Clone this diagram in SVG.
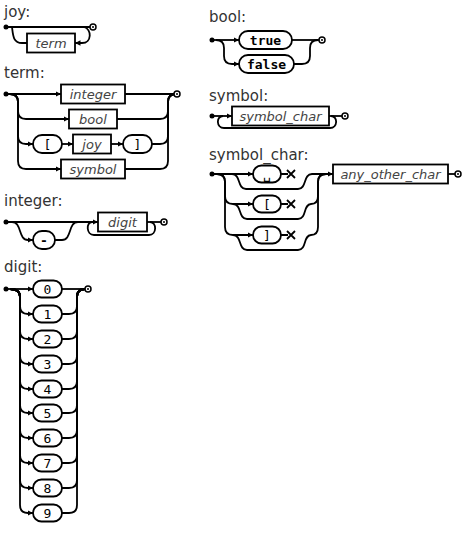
<svg xmlns="http://www.w3.org/2000/svg" width="466" height="538" viewBox="0 0 466 538">
<style>
.ln{fill:none;stroke:#000;stroke-width:1.8}
.bx{fill:#fff;stroke:#000;stroke-width:1.8}
.nt{font-family:"DejaVu Sans",sans-serif;font-style:italic;font-size:13px;fill:#444;text-anchor:middle}
.t{font-family:"DejaVu Sans Mono",monospace;font-size:13px;fill:#000;text-anchor:middle}
.tb{font-family:"DejaVu Sans Mono",monospace;font-size:13px;font-weight:bold;fill:#000;text-anchor:middle}
.lbl{font-family:"DejaVu Sans",sans-serif;font-size:15px;fill:#333}
.st{fill:#000}
.en{fill:#fff;stroke:#000;stroke-width:1.5}
.x{stroke:#000;stroke-width:1.8}
</style>
<defs>
<marker id="ah" viewBox="0 0 8 8" refX="8" refY="4" markerWidth="5.5" markerHeight="5.5" markerUnits="userSpaceOnUse" orient="auto"><path d="M0,0 L8,4 L0,8 z" fill="#000"/></marker>
</defs>
<rect width="466" height="538" fill="#fff"/>

<g id="joy">
<text x="4" y="17" class="lbl">joy:</text>
<g class="connectors">
<path class="ln" d="M6 27 H90"/>
<path class="ln" d="M12 27 C13 35 13 43 22 43 H27"/>
<path class="ln" d="M84 27 C92 29 92 43 82 43 H75" marker-end="url(#ah)"/>
</g>
<circle class="st" cx="6" cy="27" r="2.5"/>
<circle class="en" cx="93" cy="27" r="3"/><circle class="st" cx="93" cy="27" r="1"/>
<g id="joy-term"><rect class="bx" x="27" y="33.5" width="48" height="19"/><text class="nt" x="51" y="47.5">term</text></g>
</g>

<g id="term">
<text x="4" y="78" class="lbl">term:</text>
<g class="connectors">
<path class="ln" d="M6 94 H61" marker-end="url(#ah)"/>
<path class="ln" d="M125 94 H174"/>
<path class="ln" d="M10 94 Q18 94 18 102 V111 Q18 119 26 119 H69" marker-end="url(#ah)"/>
<path class="ln" d="M117 119 H160 Q168 119 168 111 V102 Q168 94 176 94"/>
<path class="ln" d="M10 94 Q18 94 18 102 V136 Q18 144 26 144 H33" marker-end="url(#ah)"/>
<path class="ln" d="M62 144 H73" marker-end="url(#ah)"/>
<path class="ln" d="M111 144 H123" marker-end="url(#ah)"/>
<path class="ln" d="M152 144 H160 Q168 144 168 136 V102 Q168 94 176 94"/>
<path class="ln" d="M10 94 Q18 94 18 102 V161 Q18 169 26 169 H61" marker-end="url(#ah)"/>
<path class="ln" d="M125 169 H160 Q168 169 168 161 V102 Q168 94 176 94"/>
</g>
<circle class="st" cx="6" cy="94" r="2.5"/>
<circle class="en" cx="177" cy="94" r="3"/><circle class="st" cx="177" cy="94" r="1"/>
<g id="term-integer"><rect class="bx" x="61" y="84.5" width="64" height="19"/><text class="nt" x="93" y="98.5">integer</text></g>
<g id="term-bool"><rect class="bx" x="69" y="109.5" width="48" height="19"/><text class="nt" x="93" y="123.5">bool</text></g>
<g id="term-lb"><rect class="bx" x="33" y="135" width="29" height="18" rx="9"/><text class="t" x="47.5" y="148.5">[</text></g>
<g id="term-joy"><rect class="bx" x="73" y="134.5" width="38" height="19"/><text class="nt" x="92" y="148.5">joy</text></g>
<g id="term-rb"><rect class="bx" x="123" y="135" width="29" height="18" rx="9"/><text class="t" x="137.5" y="148.5">]</text></g>
<g id="term-symbol"><rect class="bx" x="61" y="159.5" width="64" height="19"/><text class="nt" x="93" y="173.5">symbol</text></g>
</g>

<g id="integer">
<text x="4" y="206" class="lbl">integer:</text>
<g class="connectors">
<path class="ln" d="M6 222 H98" marker-end="url(#ah)"/>
<path class="ln" d="M12 222 C22 222 18 240 28 240 H33" marker-end="url(#ah)"/>
<path class="ln" d="M55 240 H62 C72 240 68 222 78 222"/>
<path class="ln" d="M147 222 H161"/>
<path class="ln" d="M150 222 C157 222 157 235 149 235 H94 C86 235 86 222 92 222"/>
</g>
<circle class="st" cx="6" cy="222" r="2.5"/>
<circle class="en" cx="164" cy="222" r="3"/><circle class="st" cx="164" cy="222" r="1"/>
<g id="integer-minus"><rect class="bx" x="33" y="231" width="22" height="18" rx="9"/><text class="tb" x="44" y="244.5">-</text></g>
<g id="integer-digit"><rect class="bx" x="98" y="212.5" width="49" height="19"/><text class="nt" x="122.5" y="226.5">digit</text></g>
</g>

<g id="digit">
<text x="4" y="272" class="lbl">digit:</text>
<g class="connectors">
<path class="ln" d="M6 289 H33" marker-end="url(#ah)"/>
<path class="ln" d="M62 289 H85"/>
<path class="ln" d="M10 289 Q20 289 20 297 V306 Q20 314 28 314 H33" marker-end="url(#ah)"/>
<path class="ln" d="M62 314 H69 Q77 314 77 306 V297 Q77 289 85 289"/>
<path class="ln" d="M10 289 Q20 289 20 297 V331 Q20 339 28 339 H33" marker-end="url(#ah)"/>
<path class="ln" d="M62 339 H69 Q77 339 77 331 V297 Q77 289 85 289"/>
<path class="ln" d="M10 289 Q20 289 20 297 V356 Q20 364 28 364 H33" marker-end="url(#ah)"/>
<path class="ln" d="M62 364 H69 Q77 364 77 356 V297 Q77 289 85 289"/>
<path class="ln" d="M10 289 Q20 289 20 297 V381 Q20 389 28 389 H33" marker-end="url(#ah)"/>
<path class="ln" d="M62 389 H69 Q77 389 77 381 V297 Q77 289 85 289"/>
<path class="ln" d="M10 289 Q20 289 20 297 V405 Q20 413 28 413 H33" marker-end="url(#ah)"/>
<path class="ln" d="M62 413 H69 Q77 413 77 405 V297 Q77 289 85 289"/>
<path class="ln" d="M10 289 Q20 289 20 297 V430 Q20 438 28 438 H33" marker-end="url(#ah)"/>
<path class="ln" d="M62 438 H69 Q77 438 77 430 V297 Q77 289 85 289"/>
<path class="ln" d="M10 289 Q20 289 20 297 V455 Q20 463 28 463 H33" marker-end="url(#ah)"/>
<path class="ln" d="M62 463 H69 Q77 463 77 455 V297 Q77 289 85 289"/>
<path class="ln" d="M10 289 Q20 289 20 297 V480 Q20 488 28 488 H33" marker-end="url(#ah)"/>
<path class="ln" d="M62 488 H69 Q77 488 77 480 V297 Q77 289 85 289"/>
<path class="ln" d="M10 289 Q20 289 20 297 V505 Q20 513 28 513 H33" marker-end="url(#ah)"/>
<path class="ln" d="M62 513 H69 Q77 513 77 505 V297 Q77 289 85 289"/>
</g>
<circle class="st" cx="6" cy="289" r="2.5"/>
<circle class="en" cx="88" cy="289" r="3"/><circle class="st" cx="88" cy="289" r="1"/>
<g id="digit-0"><rect class="bx" x="33" y="280.5" width="29" height="17" rx="8.5"/><text class="t" x="47.5" y="293.5">0</text></g>
<g id="digit-1"><rect class="bx" x="33" y="305.5" width="29" height="17" rx="8.5"/><text class="t" x="47.5" y="318.5">1</text></g>
<g id="digit-2"><rect class="bx" x="33" y="330.5" width="29" height="17" rx="8.5"/><text class="t" x="47.5" y="343.5">2</text></g>
<g id="digit-3"><rect class="bx" x="33" y="355.5" width="29" height="17" rx="8.5"/><text class="t" x="47.5" y="368.5">3</text></g>
<g id="digit-4"><rect class="bx" x="33" y="380.5" width="29" height="17" rx="8.5"/><text class="t" x="47.5" y="393.5">4</text></g>
<g id="digit-5"><rect class="bx" x="33" y="404.5" width="29" height="17" rx="8.5"/><text class="t" x="47.5" y="417.5">5</text></g>
<g id="digit-6"><rect class="bx" x="33" y="429.5" width="29" height="17" rx="8.5"/><text class="t" x="47.5" y="442.5">6</text></g>
<g id="digit-7"><rect class="bx" x="33" y="454.5" width="29" height="17" rx="8.5"/><text class="t" x="47.5" y="467.5">7</text></g>
<g id="digit-8"><rect class="bx" x="33" y="479.5" width="29" height="17" rx="8.5"/><text class="t" x="47.5" y="492.5">8</text></g>
<g id="digit-9"><rect class="bx" x="33" y="504.5" width="29" height="17" rx="8.5"/><text class="t" x="47.5" y="517.5">9</text></g>
</g>

<g id="bool">
<text x="209" y="22" class="lbl">bool:</text>
<g class="connectors">
<path class="ln" d="M212 40 H239" marker-end="url(#ah)"/>
<path class="ln" d="M292 40 H319"/>
<path class="ln" d="M216 40 Q224 40 224 48 V56 Q224 64 232 64 H239" marker-end="url(#ah)"/>
<path class="ln" d="M294 64 H302 Q310 64 310 56 V48 Q310 40 318 40"/>
</g>
<circle class="st" cx="212" cy="40" r="2.5"/>
<circle class="en" cx="322" cy="40" r="3"/><circle class="st" cx="322" cy="40" r="1"/>
<g id="bool-true"><rect class="bx" x="239" y="31" width="53" height="18" rx="9"/><text class="tb" x="265.5" y="44.5">true</text></g>
<g id="bool-false"><rect class="bx" x="239" y="55" width="55" height="18" rx="9"/><text class="tb" x="266.5" y="68.5">false</text></g>
</g>

<g id="symbol">
<text x="209" y="101" class="lbl">symbol:</text>
<g class="connectors">
<path class="ln" d="M212 116 H232" marker-end="url(#ah)"/>
<path class="ln" d="M329 116 H342"/>
<path class="ln" d="M331 116 C338 116 338 128 330 128 H224 C216 128 216 116 223 116"/>
</g>
<circle class="st" cx="212" cy="116" r="2.5"/>
<circle class="en" cx="345" cy="116" r="3"/><circle class="st" cx="345" cy="116" r="1"/>
<g id="symbol-symbol_char"><rect class="bx" x="232" y="106.5" width="97" height="19"/><text class="nt" x="280.5" y="120.5">symbol_char</text></g>
</g>

<g id="symbol_char">
<text x="209" y="160" class="lbl">symbol_char:</text>
<g class="connectors">
<path class="ln" d="M212 174 H253" marker-end="url(#ah)"/>
<path class="ln" d="M232 174 C241 174 237 189 246 189 H298 C307 189 303 174 312 174 H333" marker-end="url(#ah)"/>
<path class="ln" d="M217 174 Q225 174 225 182 V196 Q225 204 233 204 H253" marker-end="url(#ah)"/>
<path class="ln" d="M233 204 C242 204 238 219 247 219 H298 C307 219 303 204 311 204 Q318 204 318 196 V182 Q318 174 326 174"/>
<path class="ln" d="M217 174 Q225 174 225 182 V227 Q225 235 233 235 H253" marker-end="url(#ah)"/>
<path class="ln" d="M233 235 C242 235 238 250 247 250 H298 C307 250 303 235 311 235 Q318 235 318 227 V182 Q318 174 326 174"/>
<path class="ln" d="M281 174 H288 M281 204 H288 M281 235 H288"/>
<path class="ln" d="M448 174 H455"/>
</g>
<g id="x-marks">
<path class="x" d="M287 170 L295 178 M287 178 L295 170"/>
<path class="x" d="M287 200 L295 208 M287 208 L295 200"/>
<path class="x" d="M287 231 L295 239 M287 239 L295 231"/>
</g>
<circle class="st" cx="212" cy="174" r="2.5"/>
<circle class="en" cx="458" cy="174" r="3"/><circle class="st" cx="458" cy="174" r="1"/>
<g id="sc-space"><rect class="bx" x="253" y="165.5" width="28" height="17" rx="8.5"/><text class="t" x="267" y="178.5">␣</text></g>
<g id="sc-lb"><rect class="bx" x="253" y="195.5" width="28" height="17" rx="8.5"/><text class="t" x="267" y="208.5">[</text></g>
<g id="sc-rb"><rect class="bx" x="253" y="226.5" width="28" height="17" rx="8.5"/><text class="t" x="267" y="239.5">]</text></g>
<g id="sc-any_other_char"><rect class="bx" x="333" y="164.5" width="115" height="19"/><text class="nt" x="390.5" y="178.5">any_other_char</text></g>
</g>
</svg>
